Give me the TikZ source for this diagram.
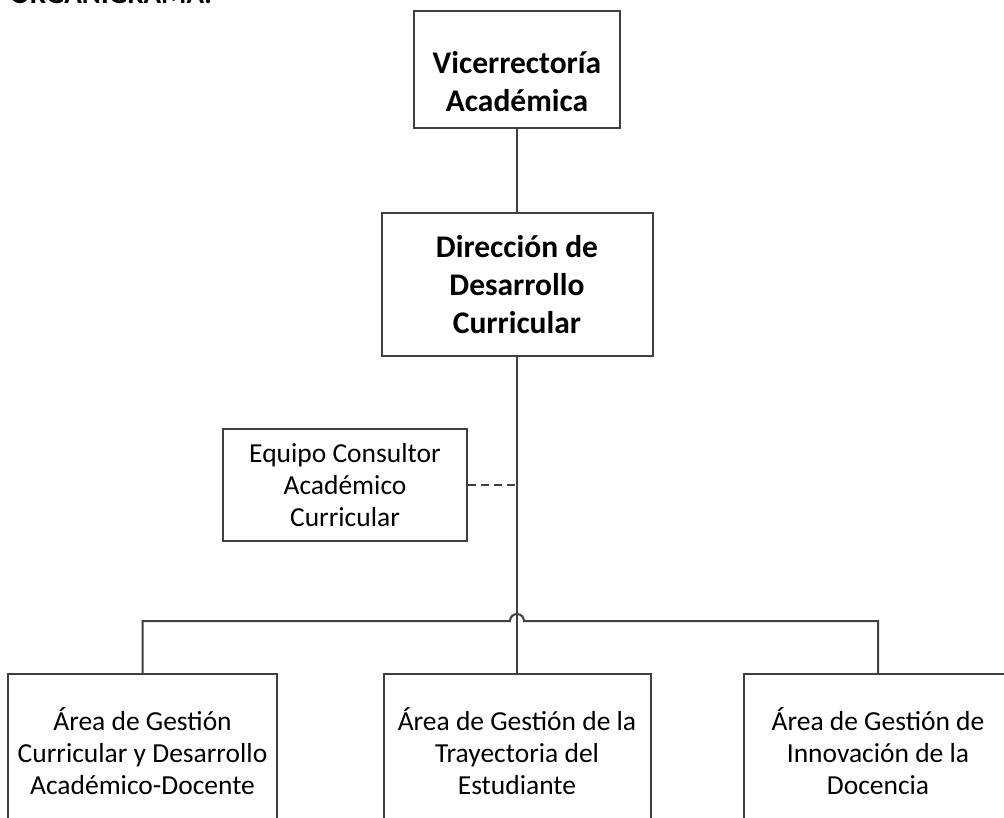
\documentclass[tikz,border=0pt]{standalone}
\usepackage{fontspec}
\setmainfont{Carlito}
\definecolor{linegray}{HTML}{404040}

\begin{document}
\begin{tikzpicture}[x=1pt,y=-1pt,
  unit/.style={draw=linegray,line width=2pt,rectangle,align=center,inner sep=0pt,
    font=\fontsize{27.5}{32}\selectfont},
  head/.style={unit,font=\bfseries\fontsize{31.5}{38}\selectfont},
  headtext/.style={align=center,inner sep=0pt,font=\bfseries\fontsize{31.5}{38}\selectfont},
  link/.style={draw=linegray,line width=2pt}]
\useasboundingbox (0,0) rectangle (1004,817);

\node[anchor=base west,inner sep=0pt,font=\bfseries\fontsize{29}{34}\selectfont] (title) at (10,3) {ORGANIGRAMA:};

\node[head,minimum width=206,minimum height=117] (vra) at (517,69.5) {};
\node[headtext] (vratext) at ([yshift=-12pt]vra.center) {Vicerrectoría\\Académica};
\node[head,minimum width=271,minimum height=143] (ddc) at (517,284.5) {Dirección de\\Desarrollo\\Curricular};
\node[unit,minimum width=244,minimum height=112] (eca) at (345,485) {Equipo Consultor\\Académico\\Curricular};

\node[unit,minimum width=269,minimum height=154] (agc) at (142.5,751) {Área de Gestión\\Curricular y Desarrollo\\Académico-Docente};
\node[unit,minimum width=267,minimum height=154] (agt) at (517,751) {Área de Gestión de la\\Trayectoria del\\Estudiante};
\node[unit,minimum width=268,minimum height=154] (agi) at (878,751) {Área de Gestión de\\Innovación de la\\Docencia};

\coordinate (bus) at (ddc.south |- 0,621);

\draw[link] (vra.south) -- (ddc.north);
\draw[link] (ddc.south) -- (agt.north);
\draw[link,dash pattern=on 8pt off 5pt] (eca.east) -- (eca.east -| ddc.south);
\draw[link] (agc.north) -- (agc.north |- bus) -- ([xshift=-7pt]bus)
  arc[start angle=180,end angle=0,radius=7pt] -- (agi.north |- bus) -- (agi.north);
\end{tikzpicture}
\end{document}
